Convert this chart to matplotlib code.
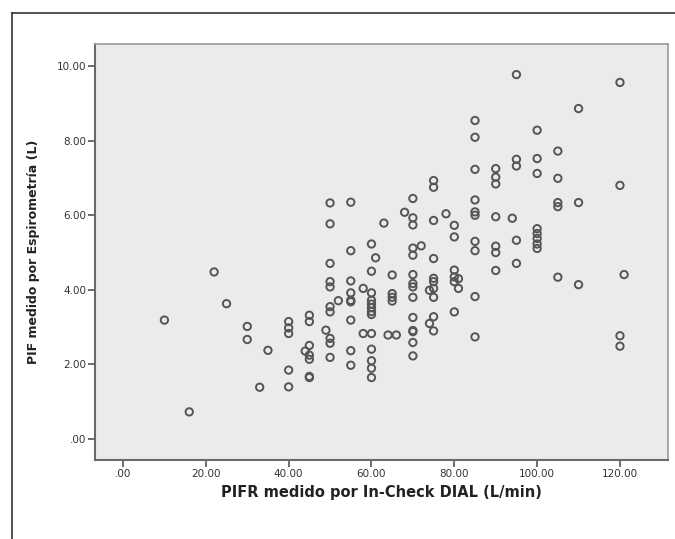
import matplotlib
matplotlib.use("Agg")
import matplotlib.pyplot as plt
from matplotlib.lines import Line2D

# Data
pifr_x = [10, 16, 22, 25, 30, 30, 33, 35,
          40, 40, 40, 40, 40, 44,
          45, 45, 45, 45, 45, 45, 45, 49,
          50, 50, 50, 50, 50, 50, 50, 50, 50, 50, 52,
          55, 55, 55, 55, 55, 55, 55, 55, 55, 58, 58,
          60, 60, 60, 60, 60, 60, 60, 60, 60, 60, 60, 60, 60, 61, 63, 64, 66,
          65, 65, 65, 65, 68,
          70, 70, 70, 70, 70, 70, 70, 70, 70, 70, 70, 70, 70, 70, 72, 74, 74,
          75, 75, 75, 75, 75, 75, 75, 75, 75, 75, 78,
          80, 80, 80, 80, 80, 80, 81, 81,
          85, 85, 85, 85, 85, 85, 85, 85, 85, 85,
          90, 90, 90, 90, 90, 90, 90, 94,
          95, 95, 95, 95, 95,
          100, 100, 100, 100, 100, 100, 100, 100,
          105, 105, 105, 105, 105,
          110, 110, 110,
          120, 120, 120, 120, 121]
pif_y = [3.19, 0.73, 4.48, 3.63, 3.02, 2.67, 1.39, 2.38,
         3.15, 2.98, 2.83, 1.85, 1.40, 2.36,
         3.32, 3.15, 2.51, 2.25, 2.14, 1.68, 1.65, 2.92,
         6.33, 5.77, 4.71, 4.22, 4.08, 3.55, 3.41, 2.70, 2.57, 2.19, 3.71,
         6.35, 5.05, 4.24, 3.92, 3.72, 3.68, 3.19, 2.37, 1.98, 4.04, 2.83,
         5.23, 4.50, 3.92, 3.72, 3.62, 3.52, 3.42, 3.34, 2.83, 2.41, 2.10, 1.90, 1.65, 4.86, 5.79, 2.79, 2.79,
         4.40, 3.90, 3.80, 3.70, 6.08,
         6.45, 5.93, 5.74, 5.12, 4.93, 4.41, 4.17, 4.08, 3.80, 3.26, 2.91, 2.88, 2.59, 2.23, 5.18, 3.99, 3.10,
         6.93, 6.75, 5.86, 4.84, 4.31, 4.22, 4.04, 3.80, 3.28, 2.90, 6.04,
         5.73, 5.42, 4.53, 4.35, 4.22, 3.41, 4.30, 4.04,
         8.54, 8.09, 7.23, 6.41, 6.09, 6.00, 5.30, 5.05, 3.82, 2.74,
         7.25, 7.02, 6.84, 5.96, 5.17, 5.00, 4.52, 5.92,
         9.77, 7.50, 7.32, 5.33, 4.71,
         8.28, 7.52, 7.12, 5.64, 5.51, 5.38, 5.23, 5.11,
         7.72, 6.99, 6.34, 6.23, 4.34,
         8.86, 6.34, 4.14,
         9.56, 6.80, 2.77, 2.49, 4.41]

x_ticks = [0, 20, 40, 60, 80, 100, 120]
x_ticklabels = [".00", "20.00", "40.00", "60.00", "80.00", "100.00", "120.00"]
y_ticks = [0, 2, 4, 6, 8, 10]
y_ticklabels = [".00", "2.00", "4.00", "6.00", "8.00", "10.00"]

W, H = 675, 539
fig = plt.figure(figsize=(W / 100, H / 100), dpi=100)
fig.patch.set_facecolor("white")

# outer frame lines (left and top)
fig.add_artist(Line2D([12 / W, 12 / W], [0, 1 - 13 / H], transform=fig.transFigure,
                      color="#333333", lw=1.2))
fig.add_artist(Line2D([12 / W, 1], [1 - 13 / H, 1 - 13 / H], transform=fig.transFigure,
                      color="#333333", lw=1.2))

left, right, top, bottom = 95, 668, 44, 460
ax = fig.add_axes([left / W, 1 - bottom / H, (right - left) / W, (bottom - top) / H])
ax.set_facecolor("#ebebeb")

ax.scatter(pifr_x, pif_y, s=28, facecolors="none", edgecolors="#555555", linewidths=1.4, zorder=3)

ax.set_xlim(-6.76, 131.6)
ax.set_ylim(-0.56, 10.59)
ax.set_xticks(x_ticks)
ax.set_xticklabels(x_ticklabels)
ax.set_yticks(y_ticks)
ax.set_yticklabels(y_ticklabels)

for side in ["left", "bottom"]:
    ax.spines[side].set_color("#6a6a6a")
    ax.spines[side].set_linewidth(1.5)
for side in ["top", "right"]:
    ax.spines[side].set_color("#9a9a9a")
    ax.spines[side].set_linewidth(1.2)

ax.tick_params(axis="both", direction="out", length=5, width=1.2, color="#555555",
               labelsize=7.5, labelcolor="#333333", pad=1.5)

ax.set_xlabel("PIFR medido por In-Check DIAL (L/min)", fontsize=10.5, fontweight="bold",
              color="#222222", labelpad=4)
ax.set_ylabel("PIF medido por Espirometría (L)", fontsize=9, fontweight="bold",
              color="#222222", labelpad=12)

fig.savefig("out.png", dpi=100)
